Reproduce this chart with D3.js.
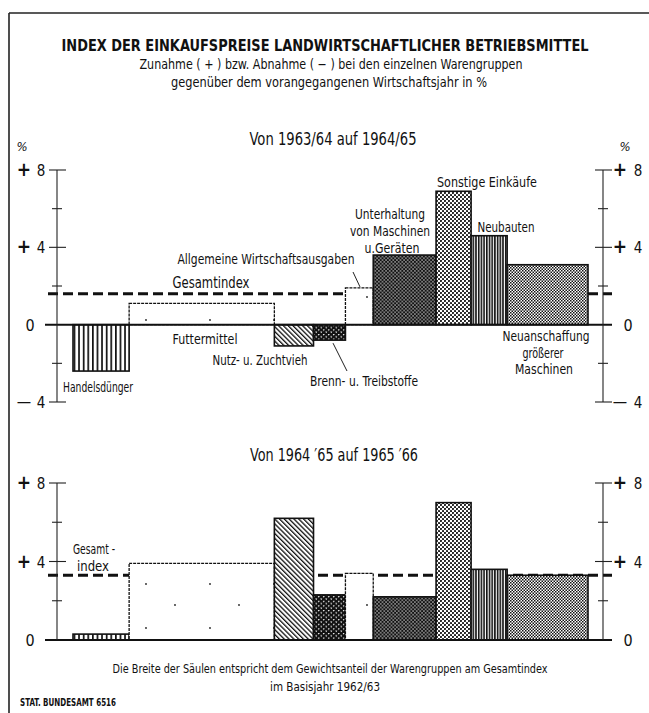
<!DOCTYPE html>
<html><head><meta charset="utf-8">
<script src="https://cdn.jsdelivr.net/npm/d3@7"></script>
<style>
html,body{margin:0;padding:0;background:#fff;}
svg{display:block;}
text{font-family:"Liberation Sans Narrow","DejaVu Sans Condensed","Roboto Condensed","Liberation Sans",sans-serif;fill:#111;}
</style></head>
<body>
<svg id="c" width="649" height="713"></svg>
<script>
// ---- data ----
const categories = ["Handelsdünger","Futtermittel","Nutz- u. Zuchtvieh","Brenn- u. Treibstoffe","Allgemeine Wirtschaftsausgaben","Unterhaltung von Maschinen u. Geräten","Sonstige Einkäufe","Neubauten","Neuanschaffung größerer Maschinen"];
const weights = [10.9, 28.2, 7.6, 6.2, 5.4, 12.2, 6.8, 7.0, 15.7];
const change6465 = [-2.4, 1.1, -1.1, -0.8, 1.9, 3.6, 6.9, 4.6, 3.1];
const change6566 = [0.3, 3.9, 6.2, 2.3, 3.4, 2.2, 7.0, 3.6, 3.3];
const totalIndex = [1.6, 3.3];
const topMajor = [8, 4, 0, -4];
const topMinor = [6, 2, -2];
const botMajor = [8, 4, 0];
const botMinor = [6, 2];
const patterns = ["pVert","pSparse","pDiag","pTri","pSparse","pDark","pLight","pDense","pCheck"];

const svg = d3.select("#c");
const defs = svg.append("defs");
function pat(id, w, h, fn, tr){
  const p = defs.append("pattern").attr("id", id).attr("patternUnits","userSpaceOnUse").attr("width", w).attr("height", h);
  if (tr) p.attr("patternTransform", tr);
  fn(p);
}
pat("pVert", 4.6, 10, p => { p.append("rect").attr("width",4.6).attr("height",10).attr("fill","#fff"); p.append("rect").attr("width",1.7).attr("height",10).attr("fill","#111"); });
pat("pDense", 2.7, 10, p => { p.append("rect").attr("width",2.7).attr("height",10).attr("fill","#fff"); p.append("rect").attr("width",1.6).attr("height",10).attr("fill","#111"); });
pat("pDiag", 3.4, 10, p => { p.append("rect").attr("width",3.4).attr("height",10).attr("fill","#fff"); p.append("rect").attr("width",1.3).attr("height",10).attr("fill","#111"); }, "rotate(-45)");
pat("pTri", 5, 4.6, p => { p.append("rect").attr("width",5).attr("height",4.6).attr("fill","#111");
  p.append("path").attr("d","M0.2,0.5 L2.3,0.5 L1.25,2.0 Z M2.7,2.8 L4.8,2.8 L3.75,4.3 Z").attr("fill","#fff"); });
pat("pDark", 3.6, 3.6, p => { p.append("rect").attr("width",3.6).attr("height",3.6).attr("fill","#111");
  p.append("circle").attr("cx",0.9).attr("cy",0.9).attr("r",0.75).attr("fill","#fff");
  p.append("circle").attr("cx",2.7).attr("cy",2.7).attr("r",0.75).attr("fill","#fff"); });
pat("pLight", 4, 4, p => { p.append("rect").attr("width",4).attr("height",4).attr("fill","#fff");
  p.append("circle").attr("cx",1).attr("cy",1).attr("r",1.05).attr("fill","#111");
  p.append("circle").attr("cx",3).attr("cy",3).attr("r",1.05).attr("fill","#111"); });
pat("pCheck", 3, 3, p => { p.append("rect").attr("width",3).attr("height",3).attr("fill","#fff");
  p.append("rect").attr("width",1.5).attr("height",1.5).attr("fill","#111");
  p.append("rect").attr("x",1.5).attr("y",1.5).attr("width",1.5).attr("height",1.5).attr("fill","#111"); });
pat("pSparse", 64, 44, p => { p.append("rect").attr("width",64).attr("height",44).attr("fill","#fff");
  p.append("circle").attr("cx",18).attr("cy",12).attr("r",0.9).attr("fill","#222");
  p.append("circle").attr("cx",47).attr("cy",33).attr("r",0.9).attr("fill","#222"); });

// frame
svg.append("line").attr("x1",9).attr("x2",649).attr("y1",13).attr("y2",13).attr("stroke","#222").attr("stroke-width",1.4);
svg.append("line").attr("x1",9).attr("x2",9).attr("y1",13).attr("y2",713).attr("stroke","#222").attr("stroke-width",1.6);

// titles
function txt(x, y, s, size, opts={}){
  const t = svg.append("text").attr("x",x).attr("y",y).attr("font-size",size).attr("text-anchor",opts.anchor||"middle").text(s);
  if (opts.bold) t.attr("font-weight","bold");
  if (opts.len) t.attr("textLength",opts.len).attr("lengthAdjust","spacingAndGlyphs");
  return t;
}
txt(325, 51, "INDEX DER EINKAUFSPREISE LANDWIRTSCHAFTLICHER BETRIEBSMITTEL", 15, {bold:true, len:527});
txt(331, 69, "Zunahme ( + ) bzw. Abnahme ( − ) bei den einzelnen Warengruppen", 14, {len:383});
txt(329, 87, "gegenüber dem vorangegangenen Wirtschaftsjahr in %", 14, {len:316});
txt(333, 145, "Von 1963/64 auf 1964/65", 17, {len:167});
txt(334, 461, "Von 1964 ′65 auf 1965 ′66", 17, {len:168});
txt(330, 673, "Die Breite der Säulen entspricht dem Gewichtsanteil der Warengruppen am Gesamtindex", 12, {len:435});
txt(325, 691, "im Basisjahr 1962/63", 12, {len:110});
txt(20, 706, "STAT. BUNDESAMT 6516", 11, {anchor:"start", len:96}).attr("font-weight","bold");

// scales
const x = d3.scaleLinear().domain([0, d3.sum(weights)]).range([73, 588]);
const starts = weights.map((w,i) => d3.sum(weights.slice(0,i)));
const yTop = d3.scaleLinear().domain([-4, 8]).range([402, 170]);
const yBot = d3.scaleLinear().domain([0, 8]).range([640, 483]);

function panel(y, vals, total, major, minor){
  const g = svg.append("g");
  // gesamtindex dashed line
  g.append("line").attr("x1",48).attr("x2",612).attr("y1",y(total)).attr("y2",y(total))
    .attr("stroke","#111").attr("stroke-width",3).attr("stroke-dasharray","10,5");
  // bars
  g.selectAll("rect.bar").data(vals).join("rect").attr("class","bar")
    .attr("x",(d,i)=>x(starts[i])).attr("width",(d,i)=>x(starts[i]+weights[i])-x(starts[i]))
    .attr("y",d=>y(Math.max(0,d))).attr("height",d=>Math.abs(y(d)-y(0)))
    .attr("fill",(d,i)=>"url(#"+patterns[i]+")")
    .attr("stroke","#111").attr("stroke-width",(d,i)=>patterns[i]==="pSparse"?1.3:1.6)
    .attr("stroke-dasharray",(d,i)=>patterns[i]==="pSparse"?"3,1":null);
  // baseline
  g.append("line").attr("x1",45).attr("x2",612).attr("y1",y(0)).attr("y2",y(0)).attr("stroke","#111").attr("stroke-width",2);
  // axes
  [57, 603].forEach((ax, side) => {
    const lo = d3.min(major), hi = d3.max(major);
    g.append("line").attr("x1",ax).attr("x2",ax).attr("y1",y(hi)).attr("y2",y(lo)).attr("stroke","#222").attr("stroke-width",1.1);
    major.filter(v=>v!==0).forEach(v => {
      g.append("line").attr("x1",ax-8).attr("x2",ax+9).attr("y1",y(v)).attr("y2",y(v)).attr("stroke","#222").attr("stroke-width",1.1);
    });
    minor.forEach(v => {
      g.append("line").attr("x1",ax-5).attr("x2",ax+5).attr("y1",y(v)).attr("y2",y(v)).attr("stroke","#222").attr("stroke-width",1.1);
    });
    major.forEach(v => {
      const yy = y(v);
      if (v === 0) {
        txt(side===0?30:628, yy+6, "0", 16);
      } else {
        const sign = v>0 ? "+" : "—";
        const sx = side===0 ? 24 : 620, nx = side===0 ? 41 : 638;
        txt(sx, yy+(v>0?6:5), sign, v>0?19:16).attr("font-weight", v>0?"bold":"normal");
        txt(nx, yy+6, String(Math.abs(v)), 15);
      }
    });
  });
}
panel(yTop, change6465, totalIndex[0], topMajor, topMinor);
panel(yBot, change6566, totalIndex[1], botMajor, botMinor);

// % signs
txt(22, 151, "%", 13).attr("font-style","italic");
txt(625, 151, "%", 13).attr("font-style","italic");

// top panel labels
const lab = (x0, y0, s, len, size=14) => txt(x0, y0, s, size, {len});
lab(211, 288, "Gesamtindex", 77, 15);
lab(266, 264, "Allgemeine Wirtschaftsausgaben", 177);
lab(205, 344, "Futtermittel", 65);
lab(260, 365, "Nutz- u. Zuchtvieh", 95);
lab(98, 392, "Handelsdünger", 70);
lab(364, 386, "Brenn- u. Treibstoffe", 108);
lab(390, 219, "Unterhaltung", 70);
lab(390, 236, "von Maschinen", 80);
lab(392, 253, "u.Geräten", 55);
lab(487, 187, "Sonstige Einkäufe", 100);
lab(506, 232, "Neubauten", 57);
lab(546, 341, "Neuanschaffung", 87);
lab(543, 358, "größerer", 41);
lab(544, 374, "Maschinen", 58);
// leader lines
const leader = (x1,y1,x2,y2) => svg.append("line").attr("x1",x1).attr("y1",y1).attr("x2",x2).attr("y2",y2).attr("stroke","#222").attr("stroke-width",1);
leader(353, 272, 360, yTop(change6465[4]) - 1);
leader(333, yTop(change6465[3]) + 3, 347, 371);

// bottom panel label
lab(94, 554, "Gesamt -", 42);
lab(93, 571, "index", 32);
</script>
</body></html>
